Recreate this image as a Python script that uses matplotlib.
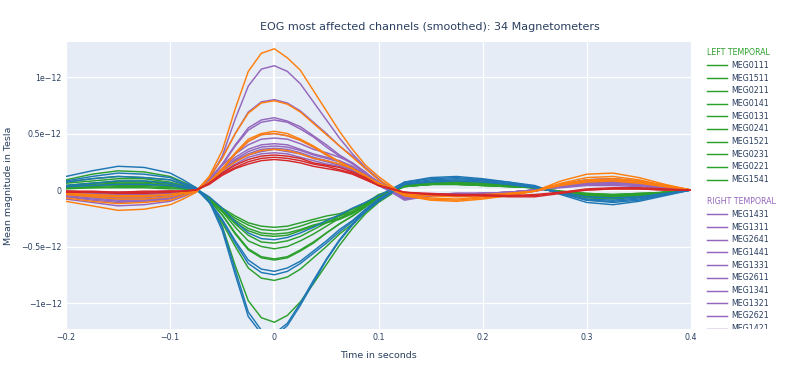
"""EOG most affected channels (smoothed) - plotly-like recreation with matplotlib"""
import matplotlib
matplotlib.use('Agg')
import matplotlib.pyplot as plt
import numpy as np

# time axis (s)
times = [-0.2, -0.175, -0.15, -0.125, -0.1, -0.0875, -0.075, -0.0625, -0.05, -0.0375,
         -0.025, -0.0125, 0.0, 0.0125, 0.025, 0.0375, 0.05, 0.0625, 0.075, 0.0875,
         0.1, 0.125, 0.15, 0.175, 0.2, 0.225, 0.25, 0.275, 0.3, 0.325, 0.35, 0.375, 0.4]

# values in units of 1e-12 T
lt_names = ['MEG0111', 'MEG1511', 'MEG0211', 'MEG0141', 'MEG0131',
            'MEG0241', 'MEG1521', 'MEG0231', 'MEG0221', 'MEG1541']
lt_vals = [
    [0.07, 0.10, 0.12, 0.11, 0.09, 0.05, 0.01, -0.09, -0.32, -0.67, -0.98, -1.13, -1.17, -1.11, -0.99, -0.83, -0.66, -0.49, -0.34, -0.21, -0.11, 0.04, 0.06, 0.07, 0.06, 0.04, 0.02, -0.02, -0.07, -0.08, -0.06, -0.03, 0.0],
    [0.09, 0.14, 0.17, 0.16, 0.12, 0.07, 0.02, -0.11, -0.29, -0.50, -0.69, -0.78, -0.80, -0.77, -0.70, -0.60, -0.50, -0.39, -0.30, -0.19, -0.09, 0.05, 0.07, 0.08, 0.07, 0.05, 0.02, -0.02, -0.05, -0.06, -0.05, -0.02, 0.0],
    [0.06, 0.08, 0.10, 0.10, 0.07, 0.04, 0.01, -0.09, -0.22, -0.39, -0.53, -0.60, -0.62, -0.60, -0.54, -0.47, -0.38, -0.30, -0.23, -0.15, -0.07, 0.04, 0.05, 0.06, 0.05, 0.04, 0.02, -0.02, -0.04, -0.05, -0.04, -0.02, 0.0],
    [0.04, 0.06, 0.08, 0.08, 0.06, 0.03, 0.01, -0.09, -0.22, -0.38, -0.52, -0.59, -0.61, -0.59, -0.53, -0.46, -0.38, -0.30, -0.23, -0.15, -0.07, 0.03, 0.05, 0.05, 0.04, 0.03, 0.02, -0.02, -0.06, -0.07, -0.06, -0.03, 0.0],
    [0.04, 0.06, 0.07, 0.07, 0.05, 0.03, 0.01, -0.07, -0.19, -0.33, -0.45, -0.50, -0.52, -0.50, -0.45, -0.39, -0.32, -0.25, -0.19, -0.12, -0.06, 0.04, 0.05, 0.06, 0.05, 0.04, 0.02, -0.01, -0.03, -0.04, -0.03, -0.02, 0.0],
    [0.03, 0.05, 0.06, 0.06, 0.04, 0.03, 0.01, -0.08, -0.19, -0.29, -0.36, -0.40, -0.41, -0.40, -0.36, -0.32, -0.29, -0.26, -0.21, -0.14, -0.05, 0.04, 0.05, 0.06, 0.05, 0.04, 0.02, -0.02, -0.04, -0.05, -0.04, -0.02, 0.0],
    [0.03, 0.04, 0.05, 0.05, 0.04, 0.02, 0.01, -0.07, -0.17, -0.25, -0.31, -0.35, -0.36, -0.35, -0.32, -0.28, -0.26, -0.23, -0.19, -0.13, -0.05, 0.04, 0.06, 0.07, 0.06, 0.04, 0.02, -0.01, -0.03, -0.04, -0.03, -0.02, 0.0],
    [0.02, 0.03, 0.04, 0.04, 0.03, 0.02, 0.0, -0.07, -0.16, -0.23, -0.29, -0.32, -0.33, -0.32, -0.29, -0.26, -0.23, -0.21, -0.17, -0.12, -0.04, 0.03, 0.05, 0.05, 0.04, 0.03, 0.02, -0.02, -0.05, -0.06, -0.05, -0.02, 0.0],
    [0.02, 0.02, 0.03, 0.03, 0.02, 0.01, 0.0, -0.08, -0.18, -0.27, -0.34, -0.38, -0.39, -0.38, -0.35, -0.31, -0.28, -0.25, -0.20, -0.14, -0.05, 0.04, 0.05, 0.06, 0.05, 0.04, 0.02, -0.02, -0.06, -0.07, -0.06, -0.03, 0.0],
    [0.01, 0.02, 0.02, 0.02, 0.01, 0.01, 0.0, -0.07, -0.17, -0.30, -0.40, -0.46, -0.47, -0.45, -0.41, -0.35, -0.29, -0.23, -0.17, -0.11, -0.05, 0.03, 0.05, 0.05, 0.04, 0.03, 0.02, -0.02, -0.04, -0.05, -0.04, -0.02, 0.0],
]

rt_names = ['MEG1431', 'MEG1311', 'MEG2641', 'MEG1441', 'MEG1331', 'MEG2611',
            'MEG1341', 'MEG1321', 'MEG2621', 'MEG1421', 'MEG2631']
rt_vals = [
    [-0.02, -0.03, -0.04, -0.04, -0.03, -0.02, 0.0, 0.09, 0.30, 0.63, 0.92, 1.07, 1.10, 1.05, 0.94, 0.78, 0.62, 0.46, 0.32, 0.20, 0.10, -0.08, -0.05, -0.04, -0.04, -0.03, -0.01, 0.04, 0.07, 0.08, 0.06, 0.03, 0.0],
    [-0.08, -0.11, -0.14, -0.13, -0.10, -0.06, -0.01, 0.11, 0.29, 0.50, 0.69, 0.78, 0.80, 0.77, 0.70, 0.60, 0.50, 0.39, 0.30, 0.19, 0.09, -0.07, -0.04, -0.04, -0.03, -0.02, 0.0, 0.05, 0.09, 0.10, 0.08, 0.04, 0.0],
    [-0.06, -0.09, -0.11, -0.10, -0.08, -0.05, -0.01, 0.09, 0.23, 0.40, 0.55, 0.62, 0.64, 0.61, 0.56, 0.48, 0.40, 0.31, 0.24, 0.15, 0.07, -0.06, -0.04, -0.03, -0.03, -0.02, 0.0, 0.04, 0.06, 0.07, 0.05, 0.02, 0.0],
    [-0.05, -0.07, -0.09, -0.09, -0.06, -0.04, -0.01, 0.09, 0.22, 0.39, 0.53, 0.60, 0.62, 0.60, 0.54, 0.47, 0.38, 0.30, 0.23, 0.15, 0.07, -0.07, -0.04, -0.04, -0.03, -0.02, 0.0, 0.05, 0.08, 0.09, 0.07, 0.03, 0.0],
    [-0.04, -0.06, -0.08, -0.08, -0.06, -0.03, -0.01, 0.09, 0.22, 0.32, 0.40, 0.45, 0.46, 0.45, 0.41, 0.36, 0.33, 0.29, 0.24, 0.16, 0.06, -0.08, -0.05, -0.04, -0.04, -0.03, -0.01, 0.03, 0.05, 0.06, 0.05, 0.02, 0.0],
    [-0.04, -0.06, -0.07, -0.07, -0.05, -0.03, -0.01, 0.08, 0.19, 0.29, 0.36, 0.40, 0.41, 0.40, 0.36, 0.32, 0.29, 0.26, 0.21, 0.14, 0.05, -0.09, -0.05, -0.05, -0.04, -0.03, -0.01, 0.03, 0.05, 0.05, 0.04, 0.02, 0.0],
    [-0.03, -0.05, -0.06, -0.06, -0.04, -0.03, -0.01, 0.08, 0.18, 0.27, 0.34, 0.38, 0.39, 0.38, 0.35, 0.31, 0.28, 0.25, 0.20, 0.14, 0.05, -0.07, -0.04, -0.04, -0.03, -0.02, 0.0, 0.04, 0.06, 0.07, 0.05, 0.02, 0.0],
    [-0.03, -0.04, -0.05, -0.05, -0.04, -0.02, -0.01, 0.07, 0.17, 0.25, 0.31, 0.34, 0.36, 0.34, 0.32, 0.28, 0.25, 0.22, 0.18, 0.12, 0.05, -0.06, -0.04, -0.03, -0.03, -0.02, 0.0, 0.04, 0.07, 0.08, 0.06, 0.03, 0.0],
    [-0.06, -0.08, -0.10, -0.10, -0.07, -0.04, -0.01, 0.07, 0.16, 0.23, 0.29, 0.32, 0.33, 0.32, 0.29, 0.26, 0.23, 0.21, 0.17, 0.12, 0.04, -0.08, -0.05, -0.04, -0.04, -0.03, 0.0, 0.05, 0.09, 0.10, 0.08, 0.04, 0.0],
    [-0.02, -0.02, -0.03, -0.03, -0.02, -0.01, 0.0, 0.07, 0.18, 0.32, 0.43, 0.49, 0.50, 0.48, 0.44, 0.38, 0.31, 0.25, 0.19, 0.12, 0.06, -0.07, -0.04, -0.04, -0.03, -0.02, 0.0, 0.03, 0.05, 0.06, 0.05, 0.02, 0.0],
    [-0.01, -0.02, -0.02, -0.02, -0.01, -0.01, 0.0, 0.07, 0.17, 0.26, 0.32, 0.36, 0.37, 0.36, 0.33, 0.29, 0.26, 0.23, 0.19, 0.13, 0.05, -0.06, -0.04, -0.03, -0.03, -0.02, 0.0, 0.02, 0.04, 0.04, 0.03, 0.01, 0.0],
]

lf_names = ['MEG0121', 'MEG0341', 'MEG0311', 'MEG0321', 'MEG0331']
lf_vals = [
    [0.12, 0.17, 0.21, 0.20, 0.15, 0.09, 0.02, -0.10, -0.36, -0.75, -1.12, -1.27, -1.30, -1.20, -1.02, -0.82, -0.62, -0.45, -0.31, -0.19, -0.10, 0.07, 0.11, 0.12, 0.10, 0.07, 0.04, -0.04, -0.11, -0.13, -0.10, -0.05, 0.0],
    [0.08, 0.12, 0.15, 0.14, 0.11, 0.06, 0.02, -0.09, -0.33, -0.71, -1.08, -1.24, -1.27, -1.18, -1.00, -0.80, -0.61, -0.44, -0.30, -0.19, -0.10, 0.05, 0.08, 0.09, 0.08, 0.05, 0.03, -0.03, -0.09, -0.10, -0.08, -0.04, 0.0],
    [0.07, 0.10, 0.12, 0.11, 0.09, 0.05, 0.01, -0.11, -0.27, -0.47, -0.65, -0.73, -0.75, -0.72, -0.65, -0.56, -0.47, -0.37, -0.28, -0.18, -0.08, 0.06, 0.09, 0.10, 0.09, 0.06, 0.03, -0.03, -0.08, -0.09, -0.07, -0.04, 0.0],
    [0.04, 0.06, 0.08, 0.08, 0.06, 0.03, 0.01, -0.10, -0.26, -0.45, -0.62, -0.70, -0.72, -0.69, -0.63, -0.54, -0.45, -0.35, -0.27, -0.17, -0.08, 0.05, 0.07, 0.08, 0.07, 0.05, 0.02, -0.02, -0.06, -0.07, -0.06, -0.03, 0.0],
    [0.03, 0.04, 0.05, 0.05, 0.04, 0.02, 0.01, -0.06, -0.16, -0.28, -0.38, -0.43, -0.44, -0.42, -0.38, -0.33, -0.27, -0.22, -0.16, -0.11, -0.05, 0.07, 0.10, 0.11, 0.09, 0.07, 0.03, -0.03, -0.09, -0.11, -0.09, -0.04, 0.0],
]

rf_names = ['MEG1411', 'MEG1221', 'MEG1211', 'MEG1231', 'MEG0921']
rf_vals = [
    [-0.03, -0.05, -0.06, -0.06, -0.04, -0.03, -0.01, 0.12, 0.35, 0.72, 1.05, 1.21, 1.25, 1.17, 1.06, 0.88, 0.70, 0.52, 0.36, 0.22, 0.12, -0.05, -0.09, -0.10, -0.08, -0.05, -0.01, 0.08, 0.14, 0.15, 0.11, 0.05, 0.0],
    [-0.10, -0.14, -0.18, -0.17, -0.13, -0.08, -0.02, 0.11, 0.28, 0.50, 0.68, 0.77, 0.79, 0.76, 0.69, 0.59, 0.49, 0.39, 0.29, 0.19, 0.09, -0.04, -0.07, -0.08, -0.06, -0.04, -0.01, 0.06, 0.11, 0.12, 0.09, 0.04, 0.0],
    [-0.07, -0.10, -0.12, -0.11, -0.09, -0.05, -0.01, 0.07, 0.19, 0.33, 0.45, 0.50, 0.52, 0.50, 0.45, 0.39, 0.32, 0.25, 0.19, 0.12, 0.06, -0.03, -0.05, -0.06, -0.05, -0.03, -0.01, 0.05, 0.09, 0.10, 0.08, 0.04, 0.0],
    [-0.04, -0.06, -0.08, -0.08, -0.06, -0.03, -0.01, 0.07, 0.18, 0.32, 0.43, 0.49, 0.50, 0.48, 0.44, 0.38, 0.31, 0.25, 0.19, 0.12, 0.06, -0.05, -0.08, -0.09, -0.07, -0.05, -0.01, 0.04, 0.07, 0.08, 0.06, 0.03, 0.0],
    [-0.03, -0.04, -0.05, -0.05, -0.04, -0.02, -0.01, 0.07, 0.17, 0.25, 0.31, 0.35, 0.36, 0.35, 0.32, 0.28, 0.26, 0.23, 0.19, 0.13, 0.05, -0.03, -0.05, -0.05, -0.04, -0.03, -0.01, 0.05, 0.08, 0.09, 0.07, 0.03, 0.0],
]

rp_names = ['MEG2221', 'MEG2411', 'MEG2421']
rp_vals = [
    [-0.01, -0.02, -0.02, -0.02, -0.01, -0.01, 0.0, 0.06, 0.15, 0.22, 0.27, 0.30, 0.31, 0.30, 0.28, 0.24, 0.22, 0.20, 0.16, 0.11, 0.04, -0.02, -0.04, -0.05, -0.05, -0.05, -0.05, -0.02, 0.01, 0.02, 0.02, 0.01, 0.0],
    [-0.02, -0.02, -0.03, -0.03, -0.02, -0.01, 0.0, 0.06, 0.14, 0.20, 0.25, 0.28, 0.29, 0.28, 0.26, 0.23, 0.21, 0.18, 0.15, 0.10, 0.04, -0.02, -0.04, -0.04, -0.05, -0.06, -0.06, -0.03, 0.0, 0.01, 0.01, 0.0, 0.0],
    [-0.01, -0.01, -0.02, -0.01, -0.01, -0.01, 0.0, 0.05, 0.13, 0.19, 0.23, 0.26, 0.27, 0.26, 0.24, 0.21, 0.19, 0.17, 0.14, 0.09, 0.04, -0.02, -0.03, -0.04, -0.04, -0.05, -0.04, -0.02, 0.0, 0.01, 0.01, 0.0, 0.0],
]

group_titles = ['LEFT TEMPORAL', 'RIGHT TEMPORAL', 'LEFT FRONTAL', 'RIGHT FRONTAL', 'RIGHT PARIETAL']
group_colors = ['#2ca02c', '#9467bd', '#1f77b4', '#ff7f0e', '#d62728']
group_names = [lt_names, rt_names, lf_names, rf_names, rp_names]
group_vals = [lt_vals, rt_vals, lf_vals, rf_vals, rp_vals]

FONT_COL = '#2a3f5f'
W, H = 800, 377

fig = plt.figure(figsize=(W / 100, H / 100), dpi=100)
# main plot area in pixel units: x 66..691, y 42..329
ax = fig.add_axes([66 / W, 1 - 329 / H, 625 / W, 287 / H])
ax.set_facecolor('#e5ecf6')
for s in ax.spines.values():
    s.set_visible(False)

t = np.array(times)
for vals, color in zip(group_vals, group_colors):
    for v in vals:
        ax.plot(t, np.array(v) * 1e-12, color=color, lw=1.05, zorder=3,
                solid_joinstyle='round')

ax.set_xlim(-0.2, 0.4)
ax.set_ylim(-1.23e-12, 1.31e-12)
ax.set_xticks([-0.2, -0.1, 0, 0.1, 0.2, 0.3, 0.4])
ax.set_xticklabels(['−0.2', '−0.1', '0', '0.1', '0.2', '0.3', '0.4'])
ax.set_yticks([-1e-12, -0.5e-12, 0, 0.5e-12, 1e-12])
ax.set_yticklabels(['−1e−12', '−0.5e−12', '0', '0.5e−12', '1e−12'])
ax.grid(True, color='white', lw=0.9, zorder=0)
ax.set_axisbelow(True)
ax.axvline(0, color='white', lw=1.6, zorder=1)
ax.axhline(0, color='white', lw=1.6, zorder=1)
ax.tick_params(length=0, labelsize=5.7, labelcolor=FONT_COL, pad=3)

ax.set_xlabel('Time in seconds', fontsize=6.8, color=FONT_COL, labelpad=6)
ax.set_ylabel('Mean magnitude in Tesla', fontsize=6.8, color=FONT_COL, labelpad=6)
fig.text(430 / W, 1 - 27 / H, 'EOG most affected channels (smoothed): 34 Magnetometers',
         ha='center', va='center', fontsize=8, color=FONT_COL)

# legend panel, clipped at the bottom like the plotly scroll box
LEG_BOTTOM = 329
lg = fig.add_axes([700 / W, 1 - LEG_BOTTOM / H, 100 / W, (LEG_BOTTOM - 42) / H])
lg.set_xlim(700, 800)
lg.set_ylim(LEG_BOTTOM, 42)
lg.axis('off')
y = 52.7
for title, color, names in zip(group_titles, group_colors, group_names):
    if y > LEG_BOTTOM + 2:
        break
    lg.text(707, y, title, color=color, fontsize=5.7, va='center', ha='left', clip_on=True)
    y += 12.7
    for name in names:
        if y > LEG_BOTTOM + 2:
            break
        lg.plot([707, 727], [y, y], color=color, lw=1.05)
        lg.text(731, y, name, color=FONT_COL, fontsize=5.7, va='center', ha='left', clip_on=True)
        y += 12.7
    y += 22 - 12.7

plt.savefig('out.png', dpi=100, facecolor='white')
plt.close()
print("Done: out.png")
